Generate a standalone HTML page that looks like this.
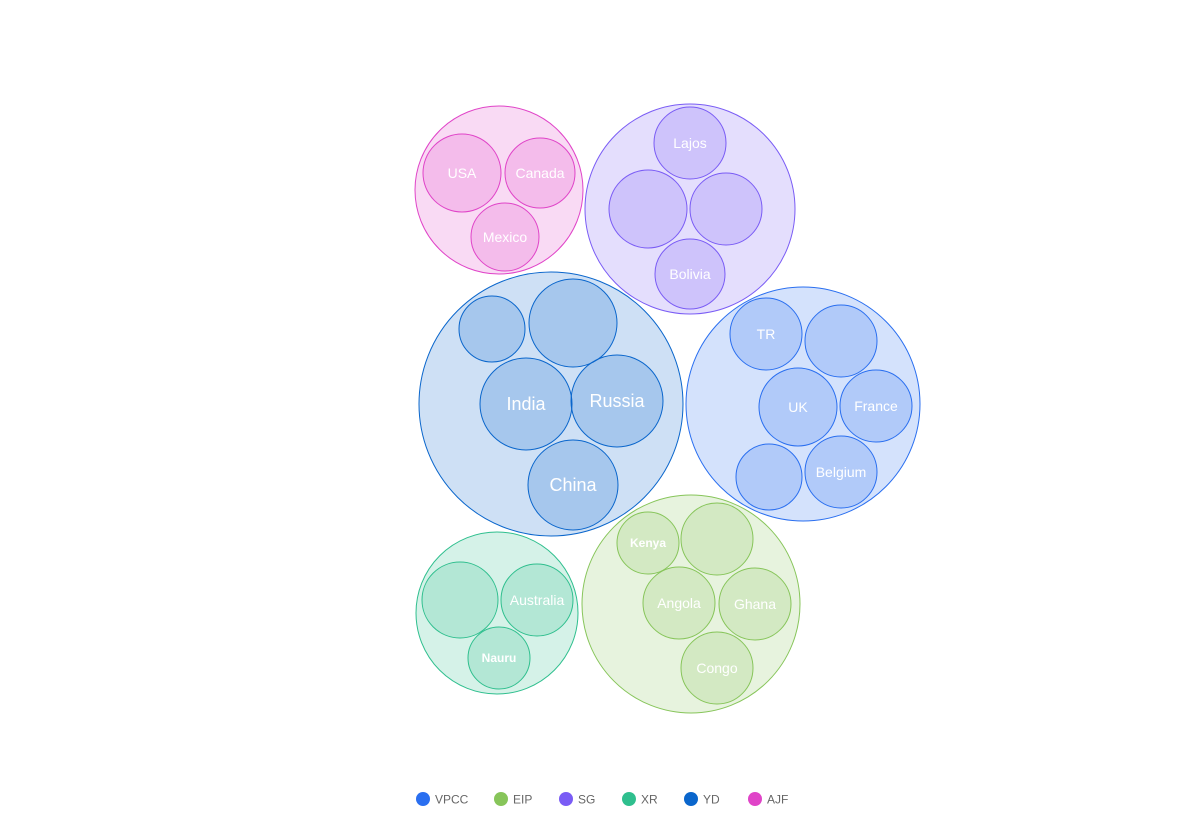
<!DOCTYPE html>
<html><head><meta charset="utf-8"><style>
body{margin:0;background:#fff;font-family:"Liberation Sans",sans-serif}
svg{display:block}
</style></head><body>
<svg id="chart" width="1203" height="821"></svg>
<script>
const groups=["VPCC","EIP","SG","XR","YD","AJF"];
const groupColors=["#2a6ff0","#87c55a","#7a5cf5","#2fbf8e","#0a66cc","#e044c8"];
const parentCx=[803,691,690,497,551,499];
const parentCy=[404,604,209,613,404,190];
const parentR=[117,109,105,81,132,84];
const childGroup=[0,0,0,0,0,0, 1,1,1,1,1, 2,2,2,2, 3,3,3, 4,4,4,4,4, 5,5,5];
const childNames=["TR","","UK","France","","Belgium","Kenya","","Angola","Ghana","Congo","Lajos","","","Bolivia","","Australia","Nauru","","","India","Russia","China","USA","Canada","Mexico"];
const childCx=[766,841,798,876,769,841,648,717,679,755,717,690,648,726,690,460,537,499,492,573,526,617,573,462,540,505];
const childCy=[334,341,407,406,477,472,543,539,603,604,668,143,209,209,274,600,600,658,329,323,404,401,485,173,173,237];
const childR=[36,36,39,36,33,36,31,36,36,36,36,36,39,36,35,38,36,31,33,44,46,46,45,39,35,34];
const NS="http://www.w3.org/2000/svg";
const svg=document.getElementById('chart');
function mk(t,a){const e=document.createElementNS(NS,t);for(const k in a)e.setAttribute(k,a[k]);return e;}
groups.forEach((g,i)=>{
  const c=mk('circle',{cx:parentCx[i],cy:parentCy[i],r:parentR[i],fill:groupColors[i],'fill-opacity':0.2,stroke:groupColors[i],'stroke-width':1});
  
  
  svg.appendChild(c);
});
childNames.forEach((n,i)=>{
  const gi=childGroup[i];
  const c=mk('circle',{cx:childCx[i],cy:childCy[i],r:childR[i],fill:groupColors[gi],'fill-opacity':0.2,stroke:groupColors[gi],'stroke-width':1});
  
  
  svg.appendChild(c);
  if(n){
    const fs=childR[i]>=44?18:(childR[i]<=31?12:14);
    const t=mk('text',{x:childCx[i],y:childCy[i],'text-anchor':'middle','dominant-baseline':'central',fill:'#fff','font-size':fs,'font-weight':fs==12?'bold':'normal'});
    t.textContent=n;
    
    
    svg.appendChild(t);
  }
});
const legX=[423,501,566,629,691,755];
groups.forEach((g,i)=>{
  const gEl=mk('g',{});
  
  
  gEl.appendChild(mk('circle',{cx:legX[i],cy:799,r:7,fill:groupColors[i]}));
  const t=mk('text',{x:legX[i]+12,y:803.5,fill:'#666','font-size':12});
  t.textContent=g;
  gEl.appendChild(t);
  svg.appendChild(gEl);
});
</script>
</body></html>
